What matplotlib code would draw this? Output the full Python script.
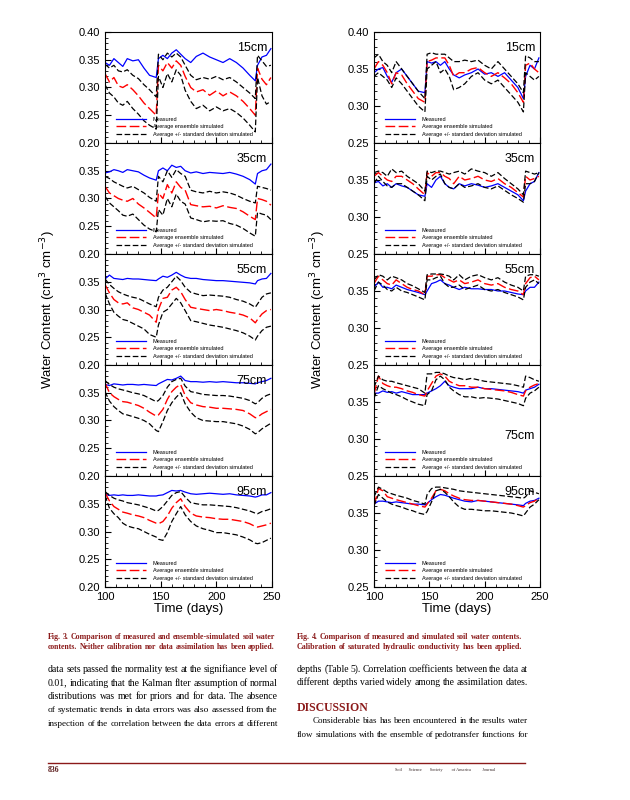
import matplotlib.pyplot as plt
from matplotlib.ticker import MultipleLocator

plt.rcParams['font.family'] = ['Liberation Sans', 'DejaVu Sans']

# sampling days shared by every series
days = [100, 104, 108, 112, 116, 120, 125, 130, 135, 140, 146, 148, 152, 156, 160, 164, 168,
        172, 177, 182, 188, 194, 200, 206, 212, 218, 224, 230, 235, 237, 241, 245, 249]

depths = ['15cm', '35cm', '55cm', '75cm', '95cm']

# ---- Fig. 3 (no calibration) ----
f3_15_meas = [0.345, 0.340, 0.352, 0.345, 0.338, 0.352, 0.348, 0.350, 0.335, 0.322, 0.318, 0.352, 0.358, 0.352, 0.362, 0.368, 0.360,
              0.352, 0.345, 0.356, 0.362, 0.355, 0.350, 0.345, 0.352, 0.345, 0.335, 0.322, 0.312, 0.340, 0.355, 0.358, 0.370]
f3_15_mean = [0.325, 0.310, 0.318, 0.303, 0.300, 0.305, 0.296, 0.285, 0.272, 0.262, 0.250, 0.340, 0.330, 0.345, 0.335, 0.348, 0.340,
              0.320, 0.300, 0.292, 0.296, 0.286, 0.294, 0.285, 0.292, 0.285, 0.275, 0.262, 0.250, 0.335, 0.315, 0.305, 0.318]
f3_15_up = [0.342, 0.335, 0.340, 0.330, 0.328, 0.332, 0.322, 0.316, 0.305, 0.296, 0.283, 0.360, 0.350, 0.362, 0.355, 0.362, 0.355,
            0.340, 0.322, 0.314, 0.318, 0.315, 0.320, 0.314, 0.318, 0.310, 0.300, 0.290, 0.280, 0.358, 0.348, 0.338, 0.340]
f3_15_low = [0.305, 0.290, 0.283, 0.272, 0.268, 0.275, 0.262, 0.252, 0.240, 0.232, 0.225, 0.320, 0.300, 0.325, 0.310, 0.332, 0.322,
             0.295, 0.275, 0.262, 0.268, 0.258, 0.265, 0.258, 0.262, 0.255, 0.245, 0.232, 0.220, 0.318, 0.285, 0.270, 0.275]

f3_35_meas = [0.346, 0.348, 0.352, 0.350, 0.347, 0.352, 0.350, 0.348, 0.342, 0.337, 0.333, 0.350, 0.355, 0.350, 0.360, 0.356, 0.358,
              0.350, 0.346, 0.348, 0.345, 0.347, 0.346, 0.345, 0.347, 0.344, 0.340, 0.334, 0.326, 0.345, 0.350, 0.352, 0.362]
f3_35_mean = [0.322, 0.310, 0.305, 0.300, 0.297, 0.295, 0.300, 0.290, 0.283, 0.275, 0.265, 0.310, 0.300, 0.325, 0.310, 0.330, 0.320,
              0.315, 0.289, 0.287, 0.285, 0.286, 0.283, 0.287, 0.284, 0.282, 0.276, 0.268, 0.262, 0.300, 0.298, 0.295, 0.288]
f3_35_up = [0.340, 0.336, 0.330, 0.326, 0.322, 0.319, 0.322, 0.316, 0.310, 0.302, 0.295, 0.340, 0.330, 0.350, 0.338, 0.352, 0.345,
            0.340, 0.315, 0.312, 0.310, 0.313, 0.310, 0.312, 0.310, 0.306, 0.300, 0.295, 0.292, 0.322, 0.320, 0.318, 0.315]
f3_35_low = [0.304, 0.292, 0.285, 0.278, 0.270, 0.268, 0.272, 0.262, 0.252, 0.245, 0.240, 0.280, 0.270, 0.300, 0.285, 0.308, 0.295,
             0.290, 0.265, 0.262, 0.258, 0.260, 0.259, 0.260, 0.255, 0.252, 0.246, 0.238, 0.232, 0.275, 0.272, 0.270, 0.262]

f3_55_meas = [0.355, 0.362, 0.356, 0.355, 0.354, 0.356, 0.355, 0.355, 0.354, 0.353, 0.352, 0.355, 0.360, 0.358, 0.362, 0.367, 0.362,
              0.358, 0.356, 0.356, 0.354, 0.353, 0.352, 0.352, 0.351, 0.350, 0.349, 0.348, 0.346, 0.352, 0.355, 0.356, 0.365]
f3_55_mean = [0.345, 0.330, 0.318, 0.312, 0.310, 0.312, 0.303, 0.300, 0.295, 0.290, 0.277, 0.300, 0.320, 0.322, 0.335, 0.340, 0.332,
              0.318, 0.304, 0.302, 0.300, 0.298, 0.300, 0.298, 0.295, 0.293, 0.290, 0.285, 0.276, 0.282, 0.292, 0.298, 0.300]
f3_55_up = [0.355, 0.345, 0.338, 0.332, 0.328, 0.325, 0.322, 0.320, 0.315, 0.310, 0.305, 0.322, 0.335, 0.340, 0.350, 0.360, 0.352,
            0.340, 0.331, 0.328, 0.325, 0.326, 0.325, 0.324, 0.322, 0.318, 0.315, 0.310, 0.304, 0.310, 0.322, 0.328, 0.330]
f3_55_low = [0.330, 0.310, 0.295, 0.288, 0.282, 0.280, 0.275, 0.270, 0.265, 0.255, 0.250, 0.272, 0.295, 0.300, 0.310, 0.320, 0.312,
             0.298, 0.280, 0.278, 0.275, 0.272, 0.270, 0.268, 0.265, 0.262, 0.258, 0.252, 0.245, 0.252, 0.262, 0.268, 0.270]

f3_75_meas = [0.365, 0.363, 0.366, 0.365, 0.364, 0.365, 0.365, 0.364, 0.365, 0.364, 0.363, 0.366, 0.370, 0.374, 0.373, 0.376, 0.380,
              0.372, 0.370, 0.370, 0.369, 0.370, 0.369, 0.370, 0.369, 0.368, 0.368, 0.367, 0.366, 0.368, 0.370, 0.372, 0.376]
f3_75_mean = [0.368, 0.350, 0.343, 0.338, 0.334, 0.333, 0.330, 0.327, 0.322, 0.315, 0.308, 0.310, 0.320, 0.338, 0.352, 0.360, 0.365,
              0.345, 0.332, 0.328, 0.325, 0.324, 0.322, 0.322, 0.321, 0.320, 0.318, 0.312, 0.305, 0.306, 0.312, 0.316, 0.320]
f3_75_up = [0.372, 0.365, 0.360, 0.357, 0.355, 0.353, 0.350, 0.348, 0.345, 0.340, 0.334, 0.336, 0.345, 0.360, 0.370, 0.374, 0.376,
            0.362, 0.352, 0.350, 0.347, 0.346, 0.345, 0.345, 0.344, 0.342, 0.340, 0.336, 0.330, 0.332, 0.340, 0.345, 0.348]
f3_75_low = [0.352, 0.335, 0.325, 0.318, 0.312, 0.310, 0.307, 0.304, 0.300, 0.294, 0.282, 0.280, 0.298, 0.318, 0.332, 0.342, 0.350,
             0.330, 0.315, 0.305, 0.300, 0.299, 0.298, 0.298, 0.296, 0.294, 0.290, 0.284, 0.276, 0.278, 0.285, 0.290, 0.295]

f3_95_meas = [0.367, 0.365, 0.366, 0.365, 0.366, 0.365, 0.365, 0.366, 0.365, 0.364, 0.364, 0.365, 0.366, 0.370, 0.374, 0.373, 0.374,
              0.371, 0.368, 0.367, 0.368, 0.369, 0.368, 0.367, 0.368, 0.366, 0.365, 0.364, 0.362, 0.363, 0.366, 0.366, 0.370]
f3_95_mean = [0.370, 0.355, 0.345, 0.340, 0.335, 0.333, 0.330, 0.328, 0.325, 0.320, 0.315, 0.314, 0.318, 0.328, 0.342, 0.352, 0.359,
              0.345, 0.333, 0.328, 0.326, 0.325, 0.323, 0.322, 0.322, 0.320, 0.318, 0.314, 0.309, 0.308, 0.310, 0.312, 0.315]
f3_95_up = [0.372, 0.365, 0.360, 0.357, 0.355, 0.352, 0.350, 0.348, 0.345, 0.342, 0.337, 0.338, 0.345, 0.355, 0.365, 0.370, 0.372,
            0.362, 0.352, 0.350, 0.348, 0.348, 0.347, 0.346, 0.345, 0.343, 0.340, 0.337, 0.333, 0.332, 0.336, 0.338, 0.341]
f3_95_low = [0.365, 0.342, 0.332, 0.325, 0.315, 0.310, 0.307, 0.305, 0.300, 0.295, 0.290, 0.286, 0.284, 0.298, 0.318, 0.332, 0.345,
             0.330, 0.318, 0.310, 0.305, 0.302, 0.298, 0.298, 0.296, 0.294, 0.290, 0.285, 0.279, 0.278, 0.280, 0.284, 0.288]

# ---- Fig. 4 (calibrated Ks) ----
f4_15_meas = [0.345, 0.350, 0.352, 0.340, 0.332, 0.345, 0.350, 0.340, 0.330, 0.320, 0.318, 0.360, 0.358, 0.360, 0.355, 0.360, 0.350,
              0.342, 0.338, 0.342, 0.345, 0.350, 0.343, 0.345, 0.340, 0.345, 0.335, 0.325, 0.310, 0.340, 0.355, 0.350, 0.365]
f4_15_mean = [0.350, 0.360, 0.355, 0.345, 0.330, 0.345, 0.342, 0.330, 0.320, 0.310, 0.305, 0.360, 0.362, 0.365, 0.365, 0.365, 0.355,
              0.340, 0.345, 0.345, 0.350, 0.352, 0.345, 0.340, 0.345, 0.338, 0.330, 0.318, 0.305, 0.355, 0.358, 0.350, 0.345]
f4_15_up = [0.365, 0.370, 0.360, 0.355, 0.345, 0.360, 0.350, 0.340, 0.330, 0.320, 0.310, 0.370, 0.372, 0.370, 0.370, 0.370, 0.365,
            0.360, 0.360, 0.362, 0.360, 0.362, 0.355, 0.350, 0.360, 0.350, 0.340, 0.330, 0.318, 0.368, 0.365, 0.360, 0.360]
f4_15_low = [0.340, 0.345, 0.340, 0.335, 0.325, 0.338, 0.330, 0.320, 0.310, 0.300, 0.292, 0.350, 0.355, 0.360, 0.345, 0.350, 0.340,
             0.322, 0.325, 0.330, 0.340, 0.345, 0.335, 0.330, 0.335, 0.325, 0.315, 0.305, 0.292, 0.345, 0.340, 0.335, 0.340]

f4_35_meas = [0.346, 0.348, 0.342, 0.345, 0.340, 0.345, 0.342, 0.340, 0.335, 0.330, 0.328, 0.345, 0.340, 0.350, 0.355, 0.345, 0.340,
              0.338, 0.345, 0.342, 0.345, 0.343, 0.340, 0.342, 0.345, 0.340, 0.335, 0.330, 0.322, 0.335, 0.345, 0.348, 0.360]
f4_35_mean = [0.355, 0.360, 0.355, 0.350, 0.348, 0.355, 0.355, 0.350, 0.345, 0.338, 0.330, 0.360, 0.355, 0.360, 0.360, 0.355, 0.352,
              0.345, 0.355, 0.350, 0.352, 0.355, 0.350, 0.348, 0.352, 0.345, 0.340, 0.333, 0.327, 0.355, 0.350, 0.352, 0.355]
f4_35_up = [0.360, 0.362, 0.360, 0.355, 0.365, 0.360, 0.362, 0.355, 0.350, 0.345, 0.335, 0.362, 0.360, 0.362, 0.362, 0.360, 0.358,
            0.360, 0.362, 0.358, 0.365, 0.362, 0.360, 0.355, 0.360, 0.352, 0.345, 0.338, 0.330, 0.362, 0.360, 0.358, 0.360]
f4_35_low = [0.345, 0.355, 0.348, 0.342, 0.340, 0.345, 0.345, 0.340, 0.335, 0.330, 0.322, 0.355, 0.350, 0.355, 0.358, 0.345, 0.340,
             0.338, 0.345, 0.340, 0.342, 0.345, 0.340, 0.338, 0.342, 0.336, 0.330, 0.325, 0.320, 0.345, 0.345, 0.348, 0.360]

f4_55_meas = [0.355, 0.362, 0.355, 0.355, 0.353, 0.358, 0.355, 0.352, 0.350, 0.348, 0.345, 0.350, 0.360, 0.362, 0.365, 0.360, 0.358,
              0.355, 0.352, 0.355, 0.353, 0.353, 0.352, 0.352, 0.350, 0.350, 0.348, 0.346, 0.345, 0.350, 0.355, 0.355, 0.362]
f4_55_mean = [0.360, 0.370, 0.365, 0.360, 0.358, 0.365, 0.360, 0.355, 0.352, 0.350, 0.345, 0.370, 0.370, 0.372, 0.372, 0.368, 0.365,
              0.362, 0.365, 0.360, 0.362, 0.365, 0.360, 0.358, 0.360, 0.355, 0.352, 0.350, 0.345, 0.360, 0.368, 0.370, 0.365]
f4_55_up = [0.365, 0.372, 0.370, 0.365, 0.370, 0.368, 0.365, 0.360, 0.357, 0.353, 0.348, 0.372, 0.373, 0.373, 0.373, 0.372, 0.370,
            0.365, 0.372, 0.365, 0.370, 0.372, 0.368, 0.365, 0.368, 0.362, 0.358, 0.355, 0.350, 0.370, 0.372, 0.372, 0.370]
f4_55_low = [0.350, 0.362, 0.358, 0.352, 0.350, 0.355, 0.350, 0.348, 0.345, 0.342, 0.338, 0.365, 0.365, 0.368, 0.370, 0.360, 0.355,
             0.355, 0.358, 0.352, 0.355, 0.358, 0.352, 0.350, 0.352, 0.348, 0.345, 0.342, 0.338, 0.355, 0.362, 0.365, 0.360]

f4_75_meas = [0.362, 0.362, 0.365, 0.363, 0.364, 0.362, 0.364, 0.362, 0.360, 0.360, 0.360, 0.362, 0.365, 0.368, 0.372, 0.378, 0.372,
              0.370, 0.368, 0.368, 0.368, 0.370, 0.368, 0.368, 0.367, 0.366, 0.365, 0.364, 0.362, 0.366, 0.368, 0.370, 0.374]
f4_75_mean = [0.360, 0.385, 0.375, 0.372, 0.370, 0.370, 0.368, 0.365, 0.363, 0.360, 0.358, 0.365, 0.375, 0.385, 0.388, 0.385, 0.378,
              0.375, 0.372, 0.372, 0.370, 0.370, 0.368, 0.367, 0.366, 0.365, 0.363, 0.360, 0.358, 0.365, 0.370, 0.373, 0.375]
f4_75_up = [0.370, 0.385, 0.380, 0.378, 0.378, 0.376, 0.374, 0.372, 0.370, 0.368, 0.362, 0.388, 0.388, 0.390, 0.390, 0.388, 0.385,
            0.383, 0.382, 0.380, 0.382, 0.380, 0.378, 0.377, 0.376, 0.375, 0.374, 0.372, 0.370, 0.385, 0.383, 0.380, 0.378]
f4_75_low = [0.355, 0.372, 0.368, 0.365, 0.362, 0.360, 0.357, 0.353, 0.350, 0.347, 0.345, 0.360, 0.365, 0.380, 0.385, 0.380, 0.370,
             0.365, 0.360, 0.357, 0.357, 0.355, 0.356, 0.355, 0.354, 0.352, 0.350, 0.348, 0.345, 0.355, 0.362, 0.365, 0.370]

f4_95_meas = [0.362, 0.366, 0.366, 0.365, 0.364, 0.365, 0.364, 0.363, 0.362, 0.362, 0.361, 0.363, 0.368, 0.372, 0.375, 0.374, 0.372,
              0.370, 0.368, 0.366, 0.365, 0.367, 0.366, 0.365, 0.364, 0.363, 0.362, 0.361, 0.360, 0.363, 0.366, 0.367, 0.370]
f4_95_mean = [0.360, 0.383, 0.380, 0.372, 0.370, 0.368, 0.366, 0.364, 0.362, 0.360, 0.358, 0.362, 0.370, 0.380, 0.382, 0.380, 0.376,
              0.373, 0.370, 0.368, 0.367, 0.367, 0.366, 0.365, 0.364, 0.363, 0.362, 0.360, 0.358, 0.360, 0.364, 0.366, 0.370]
f4_95_up = [0.372, 0.385, 0.382, 0.378, 0.376, 0.374, 0.372, 0.370, 0.367, 0.365, 0.362, 0.375, 0.383, 0.385, 0.385, 0.384, 0.383,
            0.382, 0.380, 0.379, 0.378, 0.377, 0.376, 0.375, 0.374, 0.373, 0.372, 0.371, 0.370, 0.372, 0.380, 0.378, 0.376]
f4_95_low = [0.360, 0.375, 0.370, 0.365, 0.362, 0.360, 0.358, 0.355, 0.353, 0.350, 0.348, 0.352, 0.365, 0.380, 0.382, 0.378, 0.372,
             0.365, 0.358, 0.355, 0.355, 0.354, 0.353, 0.353, 0.352, 0.351, 0.350, 0.348, 0.346, 0.350, 0.358, 0.362, 0.368]

fig3 = [(f3_15_meas, f3_15_mean, f3_15_up, f3_15_low), (f3_35_meas, f3_35_mean, f3_35_up, f3_35_low),
        (f3_55_meas, f3_55_mean, f3_55_up, f3_55_low), (f3_75_meas, f3_75_mean, f3_75_up, f3_75_low),
        (f3_95_meas, f3_95_mean, f3_95_up, f3_95_low)]
fig4 = [(f4_15_meas, f4_15_mean, f4_15_up, f4_15_low), (f4_35_meas, f4_35_mean, f4_35_up, f4_35_low),
        (f4_55_meas, f4_55_mean, f4_55_up, f4_55_low), (f4_75_meas, f4_75_mean, f4_75_up, f4_75_low),
        (f4_95_meas, f4_95_mean, f4_95_up, f4_95_low)]

W, H = 630, 800
fig = plt.figure(figsize=(W / 100, H / 100), dpi=100)
renderer = fig.canvas.get_renderer()
red = '#8b1a1a'
serif = ['Liberation Serif', 'DejaVu Serif']


def draw_column(series, x0, x1, ymin, low_label):
    top, bottom = 32, 587
    ph = (bottom - top) / 5
    for i, (meas, mean, up, low) in enumerate(series):
        ytop = top + i * ph
        ax = fig.add_axes([x0 / W, 1 - (ytop + ph) / H, (x1 - x0) / W, ph / H])
        ax.plot(days, meas, color='blue', lw=0.9, label='Measured')
        ax.plot(days, mean, color='red', lw=1.0, dashes=(7, 2.5), label='Average ensemble simulated')
        ax.plot(days, up, color='black', lw=0.9, dashes=(4.5, 2),
                label='Average +/- standard deviation simulated')
        ax.plot(days, low, color='black', lw=0.9, dashes=(4.5, 2))
        ax.set_xlim(100, 250)
        ax.set_ylim(ymin, 0.40)
        ax.xaxis.set_minor_locator(MultipleLocator(10))
        ax.yaxis.set_minor_locator(MultipleLocator(0.01))
        ax.tick_params(which='both', direction='in', labelsize=8)
        ax.tick_params(which='major', length=4)
        ax.tick_params(which='minor', length=2.5)
        ticks = [ymin + 0.05 * k for k in range(int(round((0.40 - ymin) / 0.05)) + 1)]
        if i > 0:
            ticks = ticks[:-1]
        ax.set_yticks(ticks)
        ax.set_yticklabels(['%.2f' % t for t in ticks])
        ax.set_xticks([100, 150, 200, 250])
        if i < 4:
            ax.set_xticklabels([])
        else:
            ax.set_xticklabels(['100', '150', '200', '250'], fontsize=8)
            ax.set_xlabel('Time (days)', fontsize=9.5, labelpad=1)
        for s in ax.spines.values():
            s.set_linewidth(0.8)
        ty = 0.36 if (low_label and i == 3) else 0.86
        ax.text(0.97, ty, depths[i], transform=ax.transAxes, ha='right', va='center', fontsize=9)
        ax.legend(loc='lower left', bbox_to_anchor=(0.04, 0.02), frameon=False, fontsize=4,
                  handlelength=5.5, handletextpad=1.2, labelspacing=0.45, borderpad=0.2)


def justify(line, x0, x1, y, fontsize, min_gap=1.8, **kw):
    # spread the words of one line between x0 and x1 (pixels), y is the baseline;
    # shrink the font a little when the words do not fit
    words = line.split()
    while True:
        widths = []
        for w in words:
            t = fig.text(0, 0, w, fontsize=fontsize, **kw)
            widths.append(t.get_window_extent(renderer).width)
            t.remove()
        g = (x1 - x0 - sum(widths)) / (len(words) - 1)
        if g >= min_gap or fontsize < 4:
            break
        fontsize -= 0.1
    x = x0
    for w, wd in zip(words, widths):
        fig.text(x / W, 1 - y / H, w, va='baseline', fontsize=fontsize, **kw)
        x += wd + g


draw_column(fig3, 105, 272, 0.20, False)
draw_column(fig4, 374, 540, 0.25, True)

ylab = 'Water Content (cm$^3$ cm$^{-3}$)'
fig.text(48 / W, 1 - 310 / H, ylab, rotation=90, ha='center', va='center', fontsize=9.5)
fig.text(318 / W, 1 - 310 / H, ylab, rotation=90, ha='center', va='center', fontsize=9.5)

cap_kw = dict(family=serif, fontweight='bold', color=red)
justify('Fig. 3. Comparison of measured and ensemble-simulated soil water', 48, 275, 639, 5.8, **cap_kw)
justify('contents. Neither calibration nor data assimilation has been applied.', 48, 275, 649, 5.8, **cap_kw)
justify('Fig. 4. Comparison of measured and simulated soil water contents.', 297, 522, 639, 5.8, **cap_kw)
justify('Calibration of saturated hydraulic conductivity has been applied.', 297, 522, 649, 5.8, **cap_kw)

body_kw = dict(family=serif, color='black')
left_lines = ['data sets passed the normality test at the signifiance level of',
              '0.01, indicating that the Kalman flter assumption of normal',
              'distributions was met for priors and for data. The absence',
              'of systematic trends in data errors was also assessed from the',
              'inspection of the correlation between the data errors at different']
for k, line in enumerate(left_lines):
    justify(line, 48, 278, 672 + 13.5 * k, 7.0, **body_kw)

justify('depths (Table 5). Correlation coefficients between the data at', 297, 528, 672, 7.0, **body_kw)
justify('different depths varied widely among the assimilation dates.', 297, 528, 685, 7.0, **body_kw)
fig.text(297 / W, 1 - 711 / H, 'DISCUSSION', family=serif, fontsize=8.5, fontweight='bold', color=red, va='baseline')
justify('Considerable bias has been encountered in the results water', 313, 528, 723, 7.0, **body_kw)
justify('flow simulations with the ensemble of pedotransfer functions for', 297, 528, 737, 7.0, **body_kw)

fig.add_artist(plt.Line2D([48 / W, 525 / W], [1 - 763 / H, 1 - 763 / H], color=red, lw=1.0))
fig.text(48 / W, 1 - 770 / H, '836', family=serif, fontsize=5.5, fontweight='bold', color='#5a1a1a', va='center')
fig.text(395 / W, 1 - 770 / H, 'Soil      Science       Society        of America          Journal',
         family=serif, fontsize=3.2, color='#3a2a2a', va='center')

fig.savefig('out.png', dpi=100)
